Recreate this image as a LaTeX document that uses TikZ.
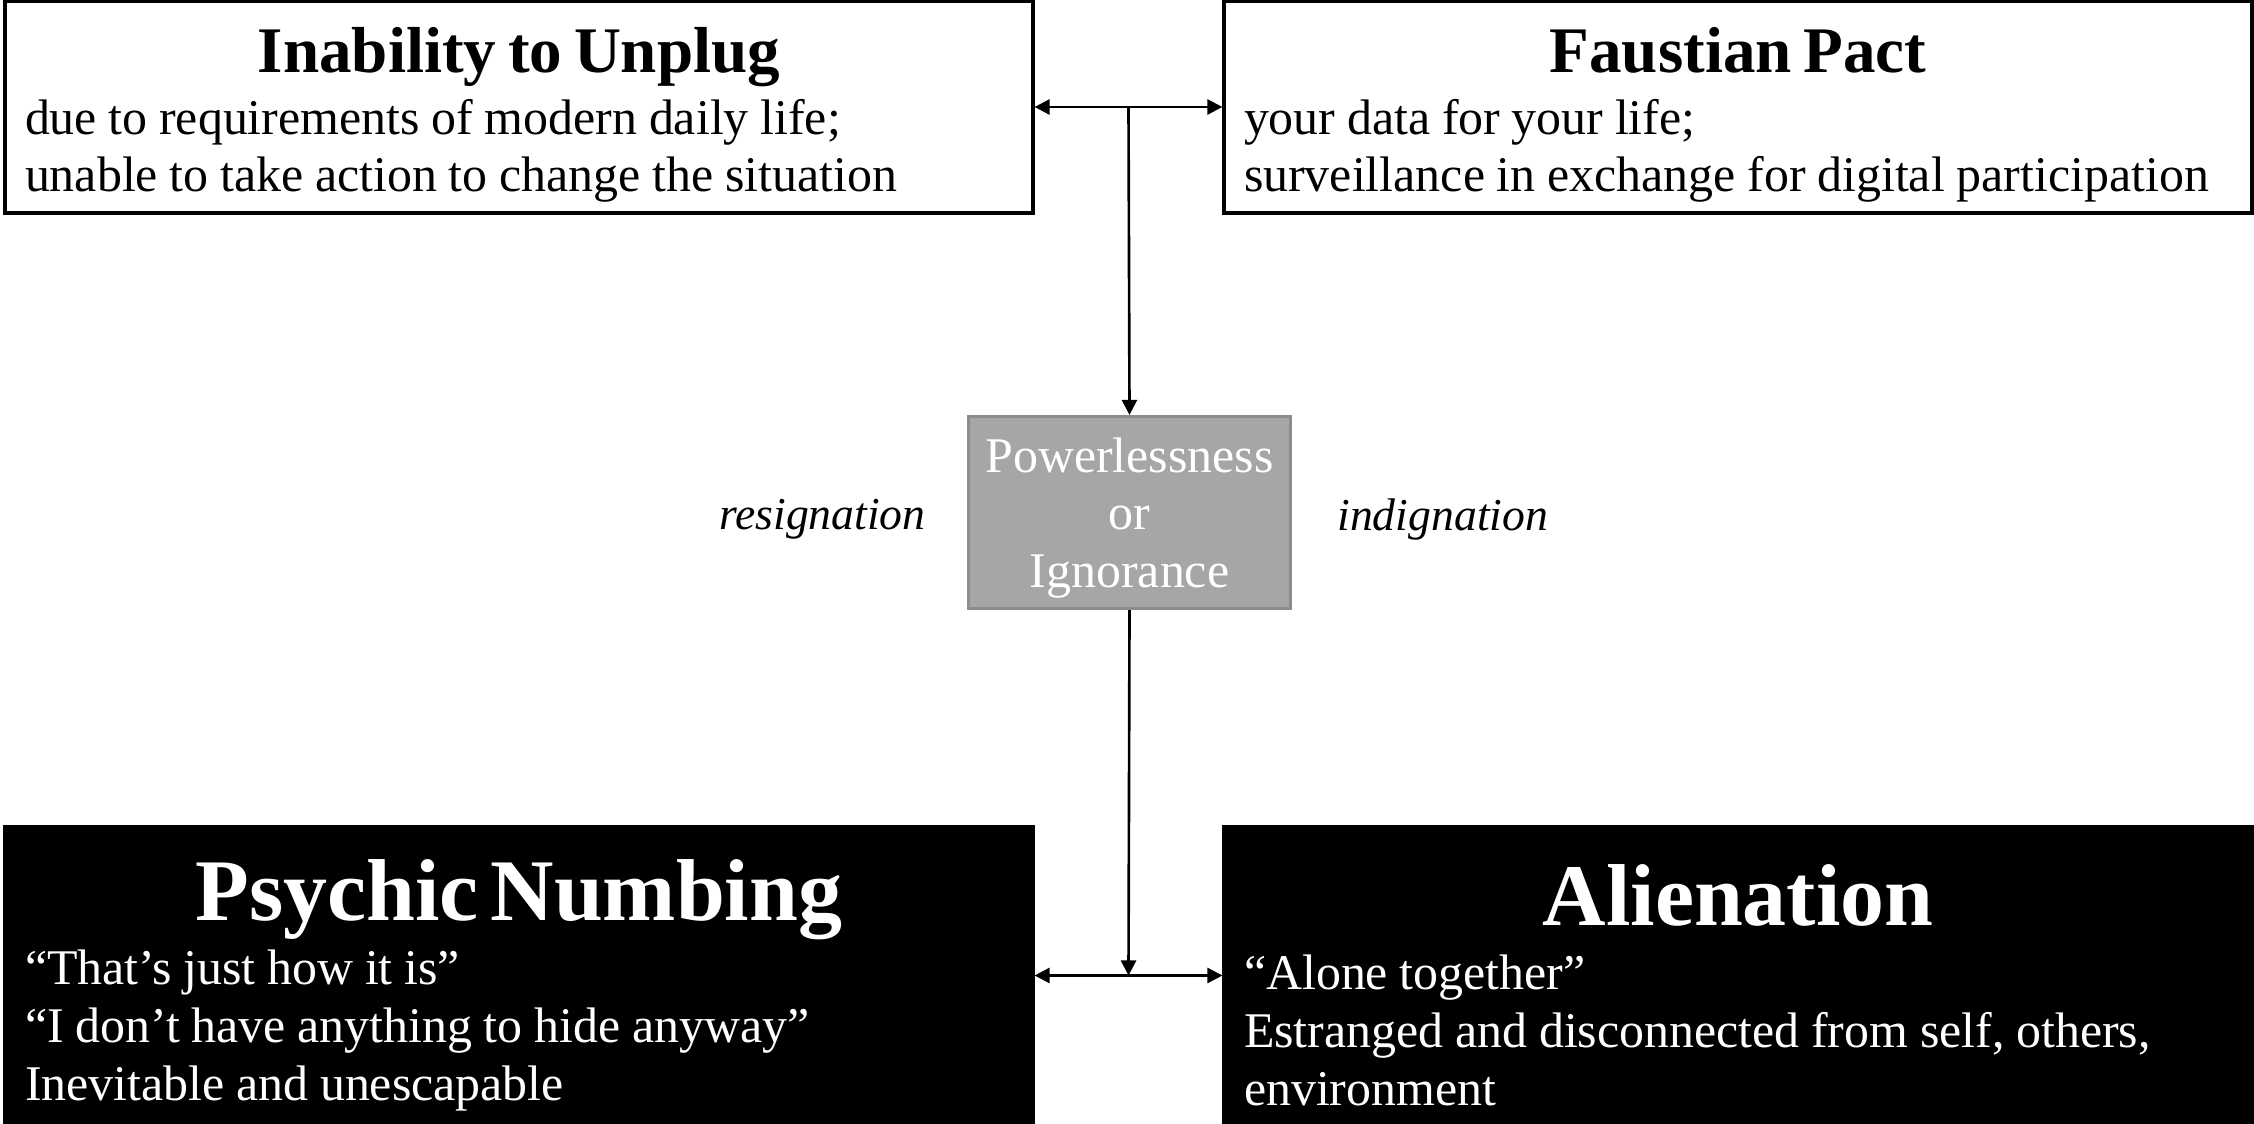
\documentclass[tikz,border=0pt]{standalone}
\usepackage{fontspec}
\setmainfont{Liberation Serif}
\usetikzlibrary{arrows.meta,positioning}
\newcommand{\boxtext}[4]{{\centering\bfseries\fontsize{#1}{#1}\selectfont\rule{0pt}{#2}#3\par}\raggedright\fontsize{14.2}{16.4}\selectfont #4\par}

\begin{document}
\begin{tikzpicture}[
	>={Triangle[length=4.3pt,width=4.3pt]},
	line width=0.75pt,
	topbox/.style={rectangle, draw=black, line width=0.9pt, fill=white, minimum height=2.12cm,
		inner xsep=0.2cm, inner ysep=0pt, text width=9.88cm},
	botbox/.style={topbox, fill=black, text=white, minimum height=2.97cm},
	midbox/.style={rectangle, draw=black!45, line width=0.9pt, fill=black!35, text=white, minimum width=3.22cm,
		minimum height=1.92cm, inner sep=0pt, align=center, text depth=0pt, font=\fontsize{14.2}{16.4}\selectfont},
	lbl/.style={inner sep=0pt, yshift=-2pt, font=\itshape\fontsize{13}{16}\selectfont}]
	\useasboundingbox (0,0) rectangle (22.54,-11.24);
	\node[topbox] (unplug) at (5.19,-1.07) {\boxtext{18.5}{17.5pt}{Inability to Unplug}{\vspace{1pt}due to requirements of modern daily life;\\unable to take action to change the situation}};
	\node[topbox] (faust) at (17.38,-1.07) {\boxtext{18.5}{17.5pt}{Faustian Pact}{\vspace{1pt}your data for your life;\\surveillance in exchange for digital participation}};
	\node[midbox] (power) at (11.295,-5.125) {Powerlessness\\or\\Ignorance};
	\node[lbl, left=0.40cm of power] (resig) {resignation};
	\node[lbl, right=0.44cm of power] (indig) {indignation};
	\node[botbox] (numb) at (5.19,-9.755) {\boxtext{25}{22.7pt}{Psychic Numbing}{\vspace{2pt}“That’s just how it is”\\“I don’t have anything to hide anyway”\\Inevitable and unescapable}};
	\node[botbox] (alien) at (17.38,-9.755) {\boxtext{25}{22.7pt}{Alienation}{\vspace{2pt}“Alone together”\\Estranged and disconnected from self, others,\\environment}};
	\draw[<->] (unplug.east) -- (faust.west) coordinate[midway] (topmid);
	\draw[->] (topmid) -- (power.north);
	\draw[<->] (numb.east) -- (alien.west) coordinate[midway] (botmid);
	\draw[->] (power.south) -- (botmid);
\end{tikzpicture}
\end{document}
